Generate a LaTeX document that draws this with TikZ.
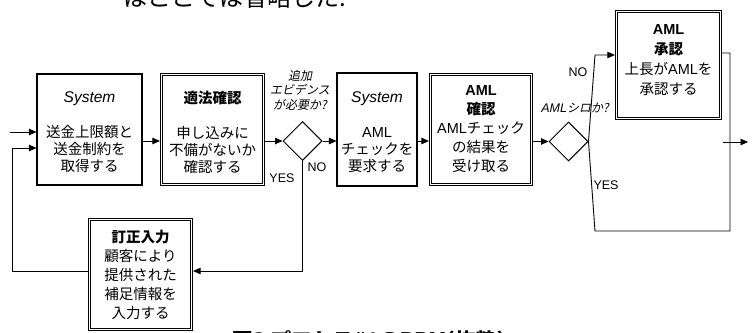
\documentclass[tikz,border=0pt]{standalone}
\usepackage{fontspec}
\usepackage{graphicx}
\setmainfont{Noto Sans CJK JP}
\newfontfamily\lat{Liberation Sans}
\newfontfamily\jit[FakeSlant=0.2]{Noto Sans CJK JP}
\usetikzlibrary{arrows.meta,shapes.geometric,calc}
\begin{document}
\begin{tikzpicture}[x=1pt,y=-1pt,
  task/.style={draw, line width=1.1pt, inner sep=0pt},
  dtask/.style={draw, double, double distance=1.6pt, line width=0.8pt, inner sep=0pt, outer sep=1.6pt},
  dec/.style={draw, diamond, line width=1pt, inner sep=0pt, minimum width=39pt, minimum height=39pt},
  conn/.style={line width=0.9pt},
  arr/.style={conn, -{Triangle[length=7.5pt,width=6.5pt]}},
  btxt/.style={align=center, inner sep=0pt, font=\fontsize{14.5}{17.25}\selectfont},
  btxtb/.style={align=center, inner sep=0pt, font=\fontsize{14.5}{19}\selectfont},
  btxtc/.style={align=center, inner sep=0pt, font=\fontsize{14.5}{20}\selectfont},
  lbl/.style={inner sep=0pt, font=\lat\fontsize{12.5}{12.5}\selectfont},
  qtxt/.style={align=center, inner sep=0pt, font=\jit\fontsize{12}{14.5}\selectfont},
]
\path[use as bounding box, clip] (0,0) rectangle (752,332);

% boxes
\node[task, minimum width=105pt, minimum height=111pt] (b1) at (89.5,129.5) {};
\node[dtask, minimum width=102pt, minimum height=110pt] (b2) at (212.5,129.5) {};
\node[task, minimum width=80pt, minimum height=113pt] (b3) at (377,129.5) {};
\node[dtask, minimum width=101pt, minimum height=110pt] (b4) at (481,129.5) {};
\node[dtask, minimum width=104pt, minimum height=107pt] (b5) at (668.5,65) {};
\node[dtask, minimum width=102pt, minimum height=110pt] (b6) at (140.5,274.5) {};

% decisions
\node[dec] (d1) at (302.5,141) {};
\node[dec] (d2) at (568.5,141.5) {};

% box texts
\node[btxt] (t1) at (89.5,132.5) {{\lat\itshape\fontsize{15.5}{17}\selectfont System}\\[17.25pt]送金上限額と\\送金制約を\\取得する};
\node[btxt] (t2) at (212.5,132.5) {{\bfseries 適法確認}\\[17.25pt]申し込みに\\不備がないか\\確認する};
\node[btxt] (t3) at (377,132.5) {{\lat\itshape\fontsize{15.5}{17}\selectfont System}\\[17.25pt]{\lat AML}\\チェックを\\要求する};
\node[btxtb] (t4) at (481,129.5) {{\lat\bfseries AML}\\{\bfseries 確認}\\{\lat AML}チェック\\の結果を\\受け取る};
\node[btxtc] (t5) at (668.5,60) {{\lat\bfseries AML}\\{\bfseries 承認}\\上長が{\lat AML}を\\承認する};
\node[btxtb] (t6) at (140.5,275) {{\bfseries 訂正入力}\\顧客により\\提供された\\補足情報を\\入力する};

% decision texts and labels
\node[qtxt] (q1) at (300,90) {追加\\エビデンス\\が必要か?};
\node[inner sep=0pt] (q2) at (575,108) {{\lat\itshape\fontsize{12.5}{12.5}\selectfont AML}{\jit\fontsize{12}{12}\selectfont シロか?}};
\node[lbl] (no1) at (317,167) {NO};
\node[lbl] (yes1) at (282,178) {YES};
\node[lbl] (no2) at (578,72) {NO};
\node[lbl] (yes2) at (606,185) {YES};

% coordinates
\coordinate (in1) at (10,132);
\coordinate (l1) at (12,148);
\coordinate (l2) at (12,271);
\coordinate (n1) at (595,55);
\coordinate (r1) at (730,53);
\coordinate (r2) at (730,231);
\coordinate (y1) at (595,231);
\coordinate (o1) at (723,142);
\coordinate (o2) at (748,142);

% connectors
\draw[arr] (in1) -- (in1 -| b1.west);
\draw[arr] (b6.west |- l2) -- (l2) -- (l1) -- (l1 -| b1.west);
\draw[arr] (b1.east |- d1) -- (b2.west |- d1);
\draw[arr] (b2.east |- d1) -- (d1.west);
\draw[arr] (d1.east) -- (b3.west |- d1);
\draw[arr] (b3.east |- d1) -- (b4.west |- d1);
\draw[arr] (b4.east |- d2) -- (d2.west);
\draw[arr] (d2.east) -- (n1) -- (n1 -| b5.west);
\draw[conn] (b5.east |- r1) -- (r1) -- (r2) -- (y1) -- (d2.east);
\draw[arr] (o1) -- (o2);
\draw[arr] (d1.south) -- (d1.south |- l2) -- (b6.east |- l2);

% clipped texts
\node[anchor=base, inner sep=0pt] (note) at (235,6.5) {\fontsize{24}{24}\selectfont はここでは省略した.};
\node[anchor=base, inner sep=0pt] (cap) at (368.5,344) {\resizebox{273pt}{\height}{\bfseries\fontsize{16}{16}\selectfont 図3 プロセス\#1のBPM(抜粋)}};
\end{tikzpicture}
\end{document}
